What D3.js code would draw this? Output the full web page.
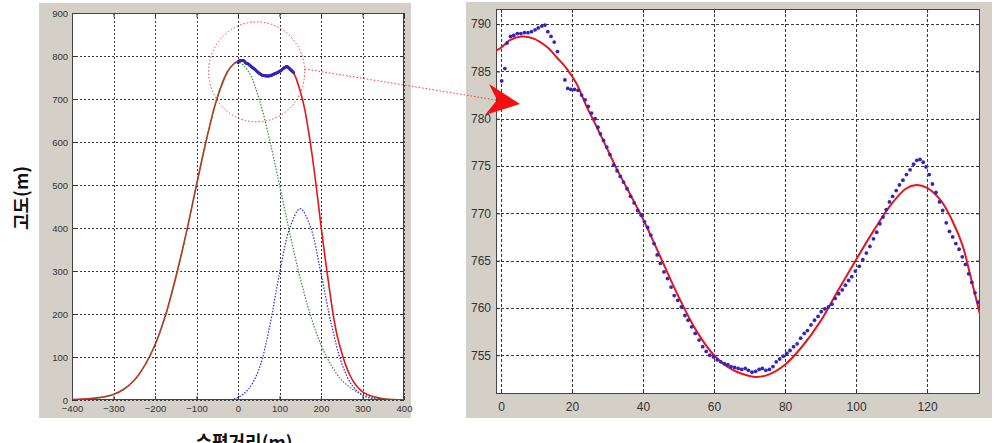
<!DOCTYPE html>
<html>
<head>
<meta charset="utf-8">
<script src="https://cdn.jsdelivr.net/npm/d3@7"></script>
<style>
  body { margin: 0; background: #fff; }
  svg { display: block; }
</style>
</head>
<body>
<svg id="chart" width="1004" height="443"></svg>
<script>
// ---- data ----

// tick labels
const leftXTicks = [-400, -300, -200, -100, 0, 100, 200, 300, 400]
const leftYTicks = [0, 100, 200, 300, 400, 500, 600, 700, 800, 900]
const rightXTicks = [0, 20, 40, 60, 80, 100, 120]
const rightYTicks = [755, 760, 765, 770, 775, 780, 785, 790]

// component curves of the whole profile (left panel), every 25 m
const compX = [-400, -375, -350, -325, -300, -275, -250, -225, -200, -175, -150, -125, -100, -75, -50, -25,
  0, 25, 50, 75, 100, 125, 150, 175, 200, 225, 250, 275, 300, 325, 350, 375, 400]
const greenY = [0, 1, 3, 6, 13, 26, 46, 80, 128, 196, 283, 387, 500, 610, 703, 764,
  786, 764, 703, 610, 500, 387, 283, 196, 128, 80, 46, 26, 13, 6, 3, 1, 0]
const blueY = [0, 0, 0, 0, 0, 0, 0, 0, 0, 0, 0, 0, 0, 0, 0, 0,
  6, 25, 70, 165, 294, 401, 445, 401, 294, 176, 85, 34, 11, 3, 1, 0, 0]

// fitted curve (red), rising flank and falling flank
const redHeadX = [-400, -375, -350, -325, -300, -275, -250, -225, -200, -175, -150, -125, -100, -75, -50, -25, -10]
const redHeadY = [1, 2, 4, 7, 13, 25, 46, 80, 128, 196, 285, 387, 500, 610, 703, 764, 782]
const redTailX = [140, 150, 160, 170, 180, 190, 200, 210, 220, 230, 240, 250, 260, 270, 280, 290, 300, 325, 350, 375, 400]
const redTailY = [748, 718, 680, 625, 560, 485, 405, 330, 260, 195, 145, 110, 80, 57, 40, 28, 19, 8, 3, 1, 0]

// fitted curve at the summit (zoomed panel)
const fitX = [-1.4, 0, 2.5, 5.8, 9, 12.9, 15.7, 18.5, 21.3, 24.1, 27, 29.8, 32.6, 35.4, 40, 45, 50, 55, 60, 65,
  70, 72, 75, 80, 85, 90, 95, 100, 105, 110, 114, 117, 120, 124, 127, 130, 132, 134.9]
const fitY = [787.2, 787.5, 788.3, 788.7, 788.5, 787.6, 786.5, 785.3, 783.7, 781.3, 779.1, 776.9, 774.7, 772.7,
  769.4, 765.3, 761.2, 757.6, 755.0, 753.5, 752.8, 752.7, 752.9, 754.0, 756.0, 758.6, 761.9, 765.1, 768.2,
  771.0, 772.6, 773.0, 772.7, 771.3, 769.3, 766.6, 763.7, 759.3]

// measured points at the summit
const measured = [
  [0.2, 784.0], [1.1, 785.3], [1.7, 788.0], [2.7, 788.7], [3.6, 788.8], [4.6, 789.0], [5.6, 789.0], [6.6, 789.1],
  [7.6, 789.1], [8.6, 789.2], [9.6, 789.4], [10.5, 789.6], [11.5, 789.8], [12.4, 789.9], [13.2, 789.2], [14.1, 788.7],
  [15.0, 788.1], [15.9, 787.1], [18.0, 784.1], [18.8, 783.2], [19.7, 783.1], [20.7, 783.1], [21.7, 783.0], [22.7, 782.5],
  [23.7, 782.0], [24.6, 781.3], [25.5, 780.6], [26.5, 780.0], [27.3, 779.1], [28.0, 778.4], [28.9, 777.7], [29.8, 777.0],
  [30.7, 776.2], [31.7, 775.1], [32.7, 774.5], [33.6, 773.9], [34.5, 773.3], [35.5, 772.6], [36.5, 771.8], [37.5, 771.1],
  [38.5, 770.3], [39.5, 769.8], [40.4, 769.1], [41.3, 768.5], [42.2, 767.7], [43.1, 766.8], [44.0, 765.6], [44.9, 764.7],
  [45.9, 763.8], [46.9, 763.1], [47.9, 762.2], [48.8, 761.3], [49.8, 760.8], [50.8, 760.1], [51.8, 759.2], [52.7, 758.7],
  [53.7, 758.0], [54.7, 757.3], [55.8, 756.6], [56.8, 755.9], [57.8, 755.4], [58.8, 755.0], [59.9, 754.8], [60.9, 754.5],
  [61.9, 754.3], [62.9, 754.1], [63.9, 754.0], [64.8, 753.8], [65.8, 753.7], [66.8, 753.6], [67.8, 753.5], [68.8, 753.6],
  [69.7, 753.4], [70.7, 753.2], [71.7, 753.3], [72.7, 753.5], [73.6, 753.6], [74.6, 753.4], [75.6, 753.5], [76.6, 753.8],
  [77.5, 754.3], [78.5, 754.6], [79.5, 754.9], [80.5, 755.2], [81.4, 755.5], [82.4, 755.9], [83.4, 756.2], [84.4, 756.8],
  [85.4, 757.3], [86.3, 757.6], [87.3, 758.2], [88.3, 758.7], [89.3, 759.1], [90.2, 759.6], [91.2, 759.9], [92.2, 760.1],
  [93.2, 760.4], [94.1, 761.0], [95.1, 761.5], [96.1, 761.9], [97.0, 762.4], [97.9, 762.9], [98.8, 763.3], [99.8, 763.9],
  [100.9, 764.4], [101.9, 765.1], [102.9, 765.8], [103.9, 766.5], [104.9, 767.3], [105.8, 768.0], [106.7, 768.9], [107.6, 769.6],
  [108.5, 770.4], [109.4, 771.2], [110.3, 771.8], [111.3, 772.4], [112.2, 773.0], [113.2, 773.5], [114.2, 774.1], [115.2, 774.6],
  [116.2, 775.2], [117.1, 775.6], [118.0, 775.7], [118.9, 775.4], [119.7, 774.9], [120.6, 774.1], [121.5, 773.1], [122.5, 772.2],
  [123.5, 771.2], [124.4, 770.3], [125.4, 769.0], [126.3, 768.1], [127.2, 767.5], [128.1, 766.8], [129.0, 766.2], [129.9, 765.4],
  [130.8, 764.6], [131.7, 763.6], [132.6, 762.7], [133.5, 761.6], [134.4, 760.6]
]

// ---- styles ----
const FRAME_GRAY = '#d4d0c8'
const RED = '#e5161e'
const GREEN = '#2f8f2f'
const BLUE = '#2b2bd6'
const DOT = '#3424c2'
const TICK_FONT = '"Liberation Sans", Arial, sans-serif'
const TITLE_FONT = '"Noto Sans CJK KR", "Noto Sans", sans-serif'

const svg = d3.select('#chart')

// draws gray frame, white plot area, dotted grid, ticks and labels. returns the scales
function drawPanel(cfg) {
  const g = svg.append('g')
  g.append('rect').attr('x', cfg.frame[0]).attr('y', cfg.frame[1]).attr('width', cfg.frame[2]).attr('height', cfg.frame[3]).attr('fill', FRAME_GRAY)
  const [px, py, pw, ph] = cfg.plot
  g.append('rect').attr('x', px).attr('y', py).attr('width', pw).attr('height', ph).attr('fill', '#fff')

  const x = d3.scaleLinear().domain(cfg.xDomain).range([px, px + pw])
  const y = d3.scaleLinear().domain(cfg.yDomain).range([py + ph, py])

  // grid
  const grid = g.append('g').attr('stroke', '#3a3a3a').attr('stroke-width', 1).attr('stroke-dasharray', cfg.dash)
  grid.selectAll('.gx').data(cfg.xTicks).join('line').attr('class', 'gx')
    .attr('x1', d => Math.round(x(d)) + 0.5).attr('x2', d => Math.round(x(d)) + 0.5).attr('y1', py).attr('y2', py + ph)
  grid.selectAll('.gy').data(cfg.yTicks).join('line').attr('class', 'gy')
    .attr('y1', d => Math.round(y(d)) + 0.5).attr('y2', d => Math.round(y(d)) + 0.5).attr('x1', px).attr('x2', px + pw)

  // axes, ticks pointing inwards like matlab
  const ax = g.append('g').attr('transform', 'translate(0,' + (py + ph) + ')')
    .call(d3.axisBottom(x).tickValues(cfg.xTicks).tickSizeInner(-4).tickSizeOuter(0).tickPadding(cfg.xPad))
  const ay = g.append('g').attr('transform', 'translate(' + px + ',0)')
    .call(d3.axisLeft(y).tickValues(cfg.yTicks).tickSizeInner(-4).tickSizeOuter(0).tickPadding(cfg.yPad))
  const at = g.append('g').attr('transform', 'translate(0,' + py + ')')
    .call(d3.axisTop(x).tickValues(cfg.xTicks).tickSizeInner(-4).tickSizeOuter(0).tickFormat(''))
  const ar = g.append('g').attr('transform', 'translate(' + (px + pw) + ',0)')
    .call(d3.axisRight(y).tickValues(cfg.yTicks).tickSizeInner(-4).tickSizeOuter(0).tickFormat(''))
  ;[ax, ay, at, ar].forEach(a => {
    a.select('.domain').remove()
    a.selectAll('line').attr('stroke', '#333')
    a.selectAll('text').attr('font-family', TICK_FONT).attr('font-size', cfg.fontSize).attr('fill', '#333')
  })

  // box
  g.append('rect').attr('x', px + 0.5).attr('y', py + 0.5).attr('width', pw - 1).attr('height', ph - 1)
    .attr('fill', 'none').attr('stroke', '#444').attr('stroke-width', 1)

  // clip for the curves
  g.append('clipPath').attr('id', cfg.id).append('rect').attr('x', px).attr('y', py).attr('width', pw).attr('height', ph)
  const layer = svg.append('g').attr('clip-path', 'url(#' + cfg.id + ')')
  return { x, y, layer }
}

// ---- left panel: full profile ----
const left = drawPanel({
  id: 'clipLeft', frame: [39, 3, 372, 415], plot: [72, 13, 332, 387],
  xDomain: [-400, 400], yDomain: [0, 900], xTicks: leftXTicks, yTicks: leftYTicks,
  dash: '2,2', fontSize: 9.5, xPad: 5, yPad: 4
})

const lineL = d3.line().x(d => left.x(d[0])).y(d => left.y(d[1])).curve(d3.curveCatmullRom.alpha(0.5))
const redFull = redHeadX.map((v, i) => [v, redHeadY[i]])
  .concat(fitX.map((v, i) => [v, fitY[i]]))
  .concat(redTailX.map((v, i) => [v, redTailY[i]]))

left.layer.append('path').datum(redFull).attr('d', lineL).attr('fill', 'none').attr('stroke', RED).attr('stroke-width', 1.6)
left.layer.append('path').datum(compX.map((v, i) => [v, greenY[i]])).attr('d', lineL)
  .attr('fill', 'none').attr('stroke', GREEN).attr('stroke-width', 1.2).attr('stroke-dasharray', '1.5,1.5')
left.layer.append('path').datum(compX.map((v, i) => [v, blueY[i]])).attr('d', lineL)
  .attr('fill', 'none').attr('stroke', BLUE).attr('stroke-width', 1.2).attr('stroke-dasharray', '1.5,1.5')
left.layer.selectAll('.dotL').data(measured).join('circle').attr('class', 'dotL')
  .attr('cx', d => left.x(d[0])).attr('cy', d => left.y(d[1])).attr('r', 1.4).attr('fill', DOT)

// ---- right panel: zoom on the summit ----
const right = drawPanel({
  id: 'clipRight', frame: [466, 2, 526, 416], plot: [496, 9, 484, 385],
  xDomain: [-1.4, 134.9], yDomain: [750.9, 791.6], xTicks: rightXTicks, yTicks: rightYTicks,
  dash: '3,2', fontSize: 12, xPad: 8, yPad: 5
})

const lineR = d3.line().x(d => right.x(d[0])).y(d => right.y(d[1])).curve(d3.curveCatmullRom.alpha(0.5))
right.layer.append('path').datum(fitX.map((v, i) => [v, fitY[i]])).attr('d', lineR)
  .attr('fill', 'none').attr('stroke', RED).attr('stroke-width', 2)
right.layer.selectAll('.dotR').data(measured).join('circle').attr('class', 'dotR')
  .attr('cx', d => right.x(d[0])).attr('cy', d => right.y(d[1])).attr('r', 1.9).attr('fill', DOT)

// ---- axis titles ----
svg.append('text').text('수평거리(m)').attr('x', 244).attr('y', 449).attr('text-anchor', 'middle')
  .attr('font-family', TITLE_FONT).attr('font-weight', 'bold').attr('font-size', 18).attr('fill', '#111')
svg.append('text').text('고도(m)').attr('transform', 'translate(28,198) rotate(-90)').attr('text-anchor', 'middle')
  .attr('font-family', TITLE_FONT).attr('font-weight', 'bold').attr('font-size', 18).attr('fill', '#111')

// ---- annotation: dotted circle + arrow to the zoom ----
const cx = left.x(45), cy = left.y(763)
svg.append('ellipse').attr('cx', cx).attr('cy', cy).attr('rx', 48).attr('ry', 50)
  .attr('fill', 'none').attr('stroke', '#f03a3a').attr('stroke-width', 1).attr('stroke-dasharray', '1.5,2')
svg.append('line').attr('x1', cx + 48).attr('y1', cy - 3).attr('x2', 496).attr('y2', 100)
  .attr('stroke', '#f03a3a').attr('stroke-width', 1).attr('stroke-dasharray', '1.5,2')
svg.append('polygon').attr('points', '489,84 520,104 485,115 497,100').attr('fill', '#f21010')
</script>
</body>
</html>
